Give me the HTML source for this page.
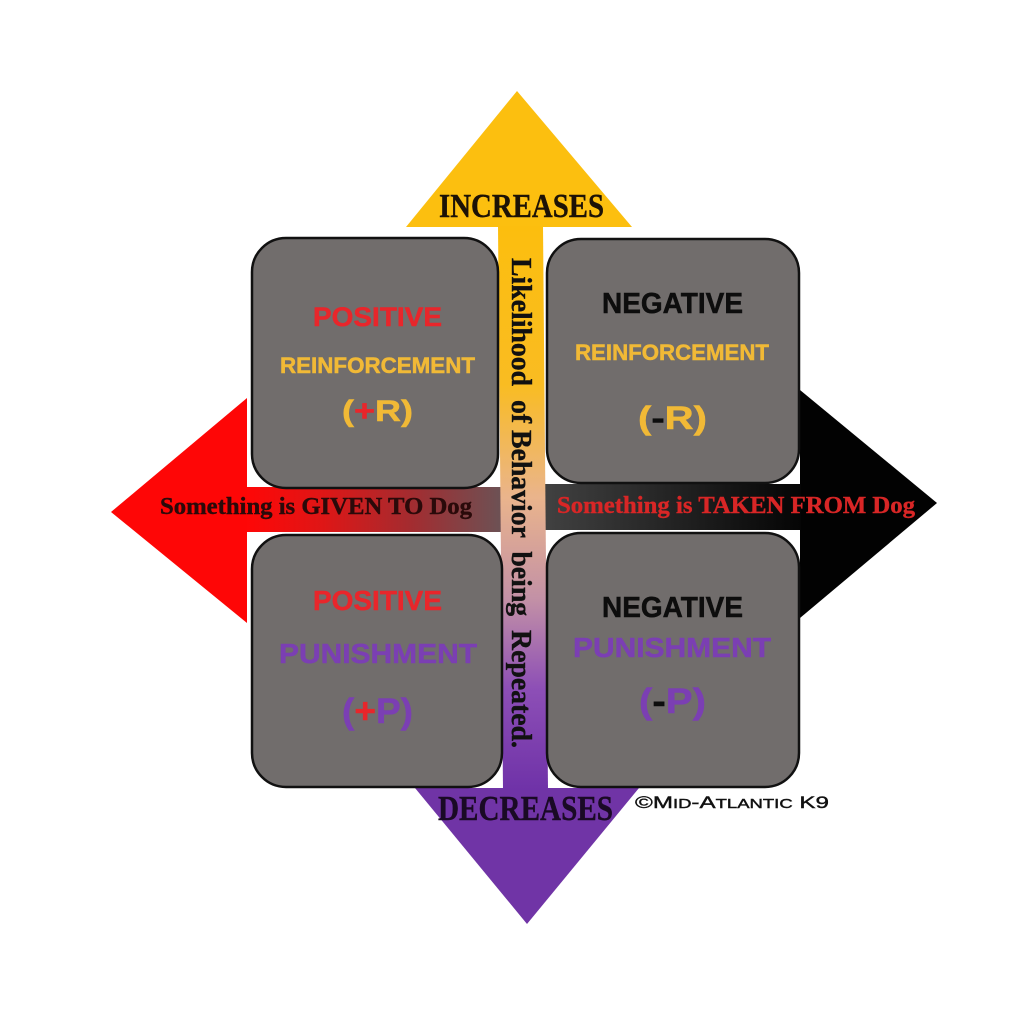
<!DOCTYPE html>
<html>
<head>
<meta charset="utf-8">
<style>
  html, body { margin: 0; padding: 0; background: #ffffff; }
  body { width: 1024px; height: 1024px; overflow: hidden; }
  svg { display: block; }
</style>
</head>
<body>
<svg width="1024" height="1024" viewBox="0 0 1024 1024" xmlns="http://www.w3.org/2000/svg">
  <defs>
    <linearGradient id="vgrad" gradientUnits="userSpaceOnUse" x1="0" y1="227" x2="0" y2="790">
      <stop offset="0" stop-color="#fcbe0e"/>
      <stop offset="0.28" stop-color="#f9bc22"/>
      <stop offset="0.48" stop-color="#eab48c"/>
      <stop offset="0.66" stop-color="#c391a6"/>
      <stop offset="0.82" stop-color="#8d4fb6"/>
      <stop offset="1" stop-color="#6f32a8"/>
    </linearGradient>
    <linearGradient id="lgrad" gradientUnits="userSpaceOnUse" x1="247" y1="0" x2="500" y2="0">
      <stop offset="0" stop-color="#fe0707"/>
      <stop offset="0.3" stop-color="#df1616"/>
      <stop offset="0.65" stop-color="#a32c30"/>
      <stop offset="1" stop-color="#6d5154"/>
    </linearGradient>
    <linearGradient id="rgrad" gradientUnits="userSpaceOnUse" x1="545" y1="0" x2="800" y2="0">
      <stop offset="0" stop-color="#414141"/>
      <stop offset="0.5" stop-color="#232323"/>
      <stop offset="1" stop-color="#050505"/>
    </linearGradient>
  </defs>

  <!-- Top yellow arrowhead -->
  <polygon points="517,91 632,227 406,227" fill="#fcbf0f"/>
  <!-- Bottom purple arrowhead -->
  <polygon points="415,788 639,788 527,924" fill="#7034a6"/>
  <!-- Left red arrowhead -->
  <polygon points="111,512 247,398 247,623" fill="#fe0606"/>
  <!-- Right black arrowhead -->
  <polygon points="937,503 800,390 800,618" fill="#020202"/>

  <!-- Horizontal shafts -->
  <rect x="247" y="487" width="258" height="45" fill="url(#lgrad)"/>
  <rect x="540" y="484" width="261" height="46" fill="url(#rgrad)"/>

  <!-- Vertical shaft -->
  <polygon points="498,226 543,226 548,790 503,790" fill="url(#vgrad)"/>

  <!-- Boxes -->
  <rect x="252" y="238" width="246" height="250" rx="34" ry="34" fill="#716d6c" stroke="#111" stroke-width="2.5"/>
  <rect x="547" y="239" width="252" height="244" rx="34" ry="34" fill="#716d6c" stroke="#111" stroke-width="2.5"/>
  <rect x="252" y="535" width="250" height="252" rx="34" ry="34" fill="#716d6c" stroke="#111" stroke-width="2.5"/>
  <rect x="547" y="533" width="252" height="254" rx="34" ry="34" fill="#716d6c" stroke="#111" stroke-width="2.5"/>

  <!-- Box texts (sans bold) -->
  <g font-family="'Liberation Sans', Arial, sans-serif" font-weight="bold" stroke-width="0.5">
    <!-- TL -->
    <text x="313" y="326" font-size="27" fill="#e8262b" stroke="#e8262b" textLength="129" lengthAdjust="spacingAndGlyphs">POSITIVE</text>
    <text x="280" y="373" font-size="22" fill="#f1b936" stroke="#f1b936" textLength="195" lengthAdjust="spacingAndGlyphs">REINFORCEMENT</text>
    <text x="342" y="421" font-size="30" fill="#f1b936" stroke="#f1b936" textLength="71" lengthAdjust="spacingAndGlyphs">(<tspan fill="#e8262b" stroke="#e8262b">+</tspan>R)</text>

    <!-- TR -->
    <text x="602" y="313" font-size="29" fill="#0d0d0d" stroke="#0d0d0d" textLength="141" lengthAdjust="spacingAndGlyphs">NEGATIVE</text>
    <text x="575" y="360" font-size="22" fill="#f1b936" stroke="#f1b936" textLength="194" lengthAdjust="spacingAndGlyphs">REINFORCEMENT</text>
    <text x="638" y="429" font-size="32" fill="#f1b936" stroke="#f1b936" textLength="69" lengthAdjust="spacingAndGlyphs">(<tspan fill="#0d0d0d" stroke="#0d0d0d">-</tspan>R)</text>

    <!-- BL -->
    <text x="313" y="610" font-size="28" fill="#e8262b" stroke="#e8262b" textLength="129" lengthAdjust="spacingAndGlyphs">POSITIVE</text>
    <text x="279" y="663" font-size="28" fill="#7b3fb3" stroke="#7b3fb3" textLength="198" lengthAdjust="spacingAndGlyphs">PUNISHMENT</text>
    <text x="342" y="723" font-size="35" fill="#7b3fb3" stroke="#7b3fb3" textLength="71" lengthAdjust="spacingAndGlyphs">(<tspan fill="#e8262b" stroke="#e8262b">+</tspan>P)</text>

    <!-- BR -->
    <text x="602" y="617" font-size="29" fill="#0d0d0d" stroke="#0d0d0d" textLength="141" lengthAdjust="spacingAndGlyphs">NEGATIVE</text>
    <text x="573" y="657" font-size="28" fill="#7b3fb3" stroke="#7b3fb3" textLength="198" lengthAdjust="spacingAndGlyphs">PUNISHMENT</text>
    <text x="639" y="713" font-size="35" fill="#7b3fb3" stroke="#7b3fb3" textLength="67" lengthAdjust="spacingAndGlyphs">(<tspan fill="#0d0d0d" stroke="#0d0d0d">-</tspan>P)</text>
  </g>

  <!-- Serif labels -->
  <g font-family="'Liberation Serif', 'Times New Roman', serif" font-weight="bold" stroke-width="0.4">
    <text x="439" y="217" font-size="34" fill="#1c1206" stroke="#1c1206" textLength="165" lengthAdjust="spacingAndGlyphs">INCREASES</text>
    <text x="438" y="820" font-size="35" fill="#1a0a25" stroke="#1a0a25" textLength="175" lengthAdjust="spacingAndGlyphs">DECREASES</text>
    <text x="160" y="514" font-size="24" fill="#2a0a0a" stroke="#2a0a0a" textLength="312" lengthAdjust="spacingAndGlyphs">Something is GIVEN TO Dog</text>
    <text x="557" y="513" font-size="24" fill="#d82626" stroke="#d82626" textLength="358" lengthAdjust="spacingAndGlyphs">Something is TAKEN FROM Dog</text>
    <text transform="translate(512,258) rotate(90)" x="0" y="0" font-size="29" fill="#111" stroke="#111" textLength="490" lengthAdjust="spacingAndGlyphs" xml:space="preserve">Likelihood  of Behavior  being  Repeated.</text>
  </g>

  <!-- Copyright -->
  <text x="635" y="808" font-family="'Liberation Sans', Arial, sans-serif" font-size="17" fill="#111" stroke="#111" stroke-width="0.4" textLength="194" lengthAdjust="spacingAndGlyphs">©M<tspan font-size="13">ID</tspan>-A<tspan font-size="13">TLANTIC</tspan> K9</text>
</svg>
</body>
</html>
